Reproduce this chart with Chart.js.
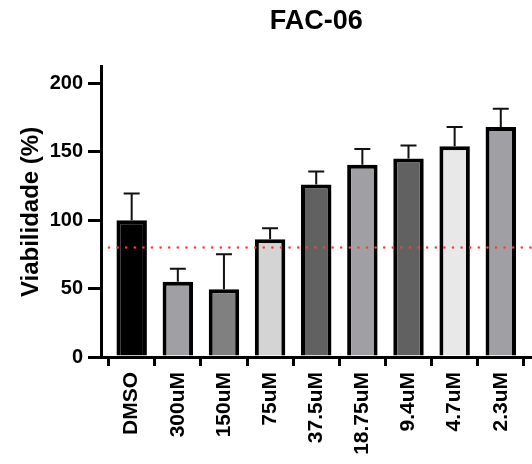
<!DOCTYPE html>
<html>
<head>
<meta charset="utf-8">
<script src="https://cdn.jsdelivr.net/npm/chart.js@4"></script>
<style>
    body { margin: 0; background: #fff; }
    #wrap { width: 532px; height: 464px; }
</style>
</head>
<body>
<div id="wrap"><canvas id="chart"></canvas></div>
<script>
const labels = ["DMSO", "300uM", "150uM", "75uM", "37.5uM", "18.75uM", "9.4uM", "4.7uM", "2.3uM"];
const viability = [100, 55, 49.5, 86, 126, 140.5, 145, 154, 168];
const errorUp = [19.5, 9.5, 25.5, 8, 9.5, 11.5, 9.5, 14, 13.5];
const barColors = ["#000000", "#a0a0a4", "#808080", "#d4d4d4", "#616161", "#a0a0a4", "#616161", "#e8e8e8", "#a0a0a4"];
const yTicks = [0, 50, 100, 150, 200];
const threshold = 80;

const font = "'Liberation Sans', Arial, sans-serif";

const errorBars = {
    id: "errorBars",
    afterDatasetsDraw(chart) {
        const ctx = chart.ctx;
        const y = chart.scales.y;
        const meta = chart.getDatasetMeta(0);
        ctx.save();
        ctx.strokeStyle = "#111";
        ctx.lineWidth = 2;
        meta.data.forEach((bar, i) => {
            const top = y.getPixelForValue(viability[i] + errorUp[i]);
            const base = y.getPixelForValue(viability[i]);
            ctx.beginPath();
            ctx.moveTo(bar.x, base);
            ctx.lineTo(bar.x, top);
            ctx.moveTo(bar.x - 8, top);
            ctx.lineTo(bar.x + 8, top);
            ctx.stroke();
        });
        ctx.restore();
    }
};

const cutLine = {
    id: "cutLine",
    afterDatasetsDraw(chart) {
        const ctx = chart.ctx;
        const area = chart.chartArea;
        const yy = chart.scales.y.getPixelForValue(threshold);
        ctx.save();
        ctx.strokeStyle = "#ff3b3b";
        ctx.lineWidth = 2.6;
        ctx.lineCap = "round";
        ctx.setLineDash([0, 8.6]);
        ctx.beginPath();
        ctx.moveTo(area.left + 8, yy);
        ctx.lineTo(area.right, yy);
        ctx.stroke();
        ctx.restore();
    }
};

new Chart(document.getElementById("chart"), {
    type: "bar",
    data: {
        datasets: [{
            data: viability.map((v, i) => ({ x: i, y: v })),
            backgroundColor: barColors,
            borderColor: "#000",
            borderWidth: 4,
            borderSkipped: "bottom",
            categoryPercentage: 1,
            barPercentage: 0.66
        }]
    },
    options: {
        responsive: true,
        maintainAspectRatio: false,
        animation: false,
        layout: { padding: 0 },
        plugins: {
            legend: { display: false },
            tooltip: { enabled: false },
            title: {
                display: true,
                text: "FAC-06",
                fullSize: false,
                color: "#000",
                font: { family: font, size: 27, weight: "bold" },
                padding: { top: 5.5, bottom: 29 }
            }
        },
        scales: {
            x: {
                type: "linear",
                offset: false,
                min: -0.665,
                max: 8.67,
                afterBuildTicks: s => { s.ticks = s.ticks.filter(t => t.value >= 0 && t.value <= 8 && Number.isInteger(t.value)); },
                afterFit: s => { s.height = 107; },
                ticks: {
                    stepSize: 1,
                    includeBounds: false,
                    autoSkip: false,
                    maxRotation: 90,
                    minRotation: 90,
                    padding: 6,
                    color: "#000",
                    font: { family: font, size: 21, weight: "bold" },
                    callback: v => labels[v]
                },
                grid: { drawOnChartArea: false, color: "#000", lineWidth: 3, tickLength: 9 },
                border: { display: true, color: "#000", width: 3 }
            },
            y: {
                min: 0,
                max: 212,
                afterBuildTicks: s => { s.ticks = yTicks.map(v => ({ value: v })); },
                afterFit: s => { s.width = 101; },
                ticks: {
                    color: "#000",
                    padding: 5,
                    font: { family: font, size: 20, weight: "bold" }
                },
                grid: { drawOnChartArea: false, color: "#000", lineWidth: 3, tickLength: 13 },
                border: { display: true, color: "#000", width: 3 },
                title: {
                    display: true,
                    text: "Viabilidade (%)",
                    color: "#000",
                    font: { family: font, size: 24, weight: "bold" },
                    padding: { top: 17, bottom: 0 }
                }
            }
        }
    },
    plugins: [errorBars, cutLine]
});
</script>
</body>
</html>
